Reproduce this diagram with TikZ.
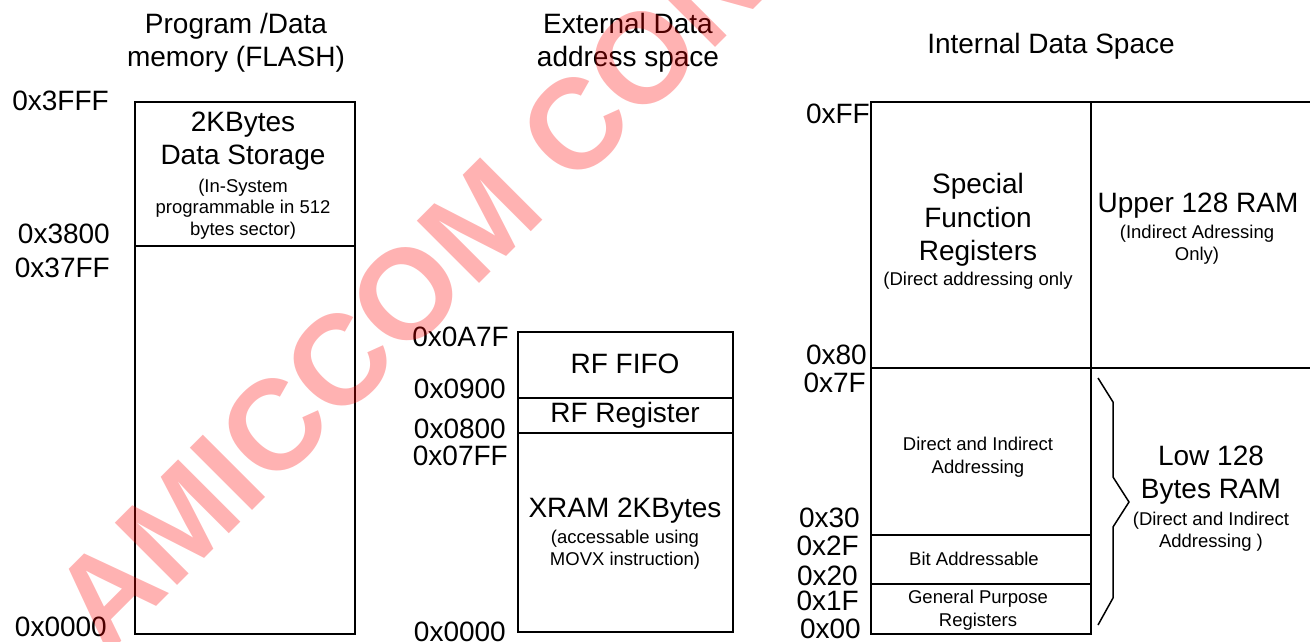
\documentclass[tikz,border=0pt]{standalone}
\usepackage{fontspec}
\setmainfont{Liberation Sans}
\newcommand\bigtxt{\fontsize{28}{33}\selectfont}
\newcommand\smtxt{\fontsize{18.5}{22}\selectfont}
\newcommand\wmtxt{\fontsize{128}{150}\selectfont\bfseries}
\begin{document}
\begin{tikzpicture}[x=1pt,y=-1pt,
  mline/.style={draw=black, line width=1.5pt},
  lbl/.style={anchor=base east, inner sep=0pt, font=\bigtxt},
  big/.style={anchor=base, inner sep=0pt, font=\bigtxt},
  small/.style={anchor=base, inner sep=0pt, font=\smtxt},
  wm/.style={anchor=base west, rotate=45, inner sep=0pt, font=\wmtxt, text=red, text opacity=0.3}]
\useasboundingbox (0,0) rectangle (1310,641);
\clip (0,0) rectangle (1310,641);
\fill[white] (0,0) rectangle (1310,641);

% ---------- Program / Data memory ----------
\draw[mline] (135,102) rectangle (355,634);
\draw[mline] (135,246) -- (355,246);
\node[big] (t1a) at (236,33) {Program /Data};
\node[big] (t1b) at (236,66) {memory (FLASH)};
\node[lbl] (a1) at (109,110) {0x3FFF};
\node[lbl] (a2) at (110,243) {0x3800};
\node[lbl] (a3) at (110,277) {0x37FF};
\node[lbl] (a4) at (107,636) {0x0000};
\node[big] (ds1) at (243,131) {2KBytes};
\node[big] (ds2) at (243,164) {Data Storage};
\node[small] (ds3) at (243,192) {(In-System};
\node[small] (ds4) at (243,213) {programmable in 512};
\node[small] (ds5) at (243,235) {bytes sector)};

% ---------- External data ----------
\draw[mline] (518,332) rectangle (733,632);
\draw[mline] (518,398) -- (733,398);
\draw[mline] (518,433) -- (733,433);
\node[big] (t2a) at (628,33) {External Data};
\node[big] (t2b) at (628,66) {address space};
\node[lbl] (b1) at (509,346) {0x0A7F};
\node[lbl] (b2) at (506,398) {0x0900};
\node[lbl] (b3) at (506,438) {0x0800};
\node[lbl] (b4) at (508,465) {0x07FF};
\node[lbl] (b5) at (506,641) {0x0000};
\node[big] (rf1) at (625,373) {RF FIFO};
\node[big] (rf2) at (625,422) {RF Register};
\node[big] (xr1) at (625,517) {XRAM 2KBytes};
\node[small] (xr2) at (625,543) {(accessable using};
\node[small] (xr3) at (625,565) {MOVX instruction)};

% ---------- Internal data ----------
\draw[mline] (871,102) rectangle (1320,368);
\draw[mline] (1091,102) -- (1091,368);
\draw[mline] (871,368) rectangle (1091,634);
\draw[mline] (871,535) -- (1091,535);
\draw[mline] (871,584) -- (1091,584);
\node[big] (t3) at (1051,53) {Internal Data Space};
\node[lbl] (c1) at (870,123) {0xFF};
\node[lbl] (c2) at (867,364) {0x80};
\node[lbl] (c3) at (866,392) {0x7F};
\node[lbl] (c4) at (860,527) {0x30};
\node[lbl] (c5) at (859,555) {0x2F};
\node[lbl] (c6) at (858,585) {0x20};
\node[lbl] (c7) at (859,610) {0x1F};
\node[lbl] (c8) at (861,638) {0x00};
\node[big] (sf1) at (978,193) {Special};
\node[big] (sf2) at (978,227) {Function};
\node[big] (sf3) at (978,260) {Registers};
\node[small] (sf4) at (978,285) {(Direct addressing only};
\node[big] (up1) at (1198,212) {Upper 128 RAM};
\node[small] (up2) at (1197,238) {(Indirect Adressing};
\node[small] (up3) at (1197,260) {Only)};
\node[small] (di1) at (978,450) {Direct and Indirect};
\node[small] (di2) at (978,473) {Addressing};
\node[small] (ba) at (974,565) {Bit Addressable};
\node[small] (gp1) at (978,603) {General Purpose};
\node[small] (gp2) at (978,626) {Registers};
\node[big] (lo1) at (1211,465) {Low 128};
\node[big] (lo2) at (1211,498) {Bytes RAM};
\node[small] (lo3) at (1211,525) {(Direct and Indirect};
\node[small] (lo4) at (1211,547) {Addressing )};
\draw[line width=1.5pt, line join=miter] (1098,378) -- (1113,402) -- (1113,477) -- (1129,502) -- (1113,527) -- (1113,598) -- (1098,625);

% ---------- watermark ----------
\node[wm] (wmk) at (106,657) {AMICCOM CON};
\end{tikzpicture}
\end{document}
